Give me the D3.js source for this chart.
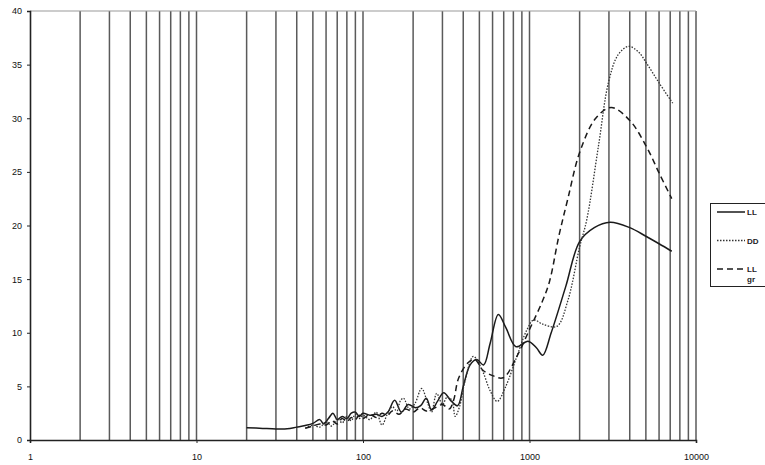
<!DOCTYPE html>
<html>
<head>
<meta charset="utf-8">
<script src="https://cdn.jsdelivr.net/npm/d3@7"></script>
<style>
  body { margin: 0; background: #fff; }
  text { font-family: "Liberation Sans", Arial, sans-serif; }
</style>
</head>
<body>
<div id="chart"></div>
<script>
// LL (solid)
const llX = [20, 25, 30, 35, 40, 45, 50, 55, 58, 62, 66, 70, 75, 80, 85, 90, 95, 100, 110, 120, 130, 141, 155, 170, 187, 207, 222, 240, 258, 280, 305, 340, 370, 400, 440, 482, 530, 580, 650, 720, 830, 980, 1100, 1200, 1350, 1650, 2000, 2450, 3050, 4000, 5000, 6000, 7150];
const llY = [1.15, 1.08, 1.03, 1.04, 1.2, 1.35, 1.55, 1.9, 1.5, 2.0, 2.5, 1.9, 2.2, 2.0, 2.5, 2.6, 2.2, 2.5, 2.3, 2.4, 2.2, 2.6, 3.7, 2.6, 3.3, 3.0, 3.2, 3.9, 2.8, 3.6, 4.4, 3.6, 3.2, 5.0, 7.0, 7.5, 7.0, 9.0, 11.7, 10.5, 8.7, 9.2, 8.6, 7.9, 10.0, 14.3, 18.5, 19.8, 20.3, 19.8, 19.0, 18.3, 17.6];

// DD (dotted)
const ddX = [45, 50, 55, 60, 65, 70, 75, 80, 85, 90, 95, 100, 110, 120, 130, 140, 150, 160, 167, 175, 190, 205, 225, 245, 258, 277, 300, 320, 342, 358, 380, 410, 460, 520, 580, 640, 720, 840, 960, 1060, 1200, 1460, 1700, 2000, 2205, 2600, 2977, 3400, 3930, 4500, 5060, 6000, 7250];
const ddY = [1.1, 1.4, 1.2, 1.7, 1.3, 2.0, 1.6, 2.2, 1.8, 2.4, 2.0, 2.3, 1.9, 2.6, 1.4, 2.4, 3.1, 2.7, 3.6, 3.9, 2.9, 3.4, 4.8, 3.4, 2.6, 4.35, 3.3, 4.0, 3.7, 2.2, 3.1, 5.5, 7.8, 6.5, 4.6, 3.6, 5.0, 7.8, 10.2, 11.2, 10.8, 10.6, 13.0, 18.0, 20.5, 27.5, 33.3, 35.9, 36.7, 36.2, 35.1, 33.3, 31.4];

// LL gr (dashed)
const grX = [45, 50, 55, 60, 65, 70, 75, 80, 85, 90, 95, 100, 110, 120, 130, 140, 150, 165, 180, 200, 220, 240, 270, 300, 330, 350, 375, 427, 470, 525, 600, 695, 840, 1000, 1200, 1320, 1500, 1700, 2000, 2500, 3100, 4000, 5060, 6000, 7150];
const grY = [1.1, 1.3, 1.5, 1.4, 1.8, 1.5, 2.0, 1.7, 2.1, 1.9, 2.3, 2.0, 2.4, 2.1, 2.5, 2.3, 2.7, 2.4, 2.9, 2.6, 3.0, 2.7, 3.0, 3.3, 2.9, 3.7, 5.75, 7.2, 7.5, 6.5, 6.0, 5.8, 7.8, 10.3, 13.0, 14.8, 19.0, 22.5, 26.8, 30.0, 31.0, 29.8, 27.3, 24.9, 22.5];

const yTicks = [0, 5, 10, 15, 20, 25, 30, 35, 40];
const xTicks = [1, 10, 100, 1000, 10000];

const series = [
  { name: ["LL"], xs: llX, ys: llY, dash: null, width: 1.5, color: "#1a1a1a" },
  { name: ["DD"], xs: ddX, ys: ddY, dash: "1.5,1.5", width: 1.3, color: "#333" },
  { name: ["LL", "gr"], xs: grX, ys: grY, dash: "6,4", width: 1.5, color: "#1a1a1a" }
];

const width = 765, height = 465;
const margin = { left: 30, right: 69, top: 11, bottom: 25 };

const svg = d3.select("#chart").append("svg")
  .attr("width", width)
  .attr("height", height);

const x = d3.scaleLog()
  .domain([1, 10000])
  .range([margin.left, width - margin.right]);

const y = d3.scaleLinear()
  .domain([0, 40])
  .range([height - margin.bottom, margin.top]);

// vertical grid lines at every log subdivision
const gridVals = [];
for (let d = 1; d < 10000; d *= 10) {
  for (let k = 1; k <= 10; k++) {
    if (d * k > 1) gridVals.push(d * k);
  }
}
svg.append("g")
  .selectAll("line")
  .data(Array.from(new Set(gridVals)))
  .enter()
  .append("line")
  .attr("x1", d => x(d))
  .attr("x2", d => x(d))
  .attr("y1", y(40))
  .attr("y2", y(0))
  .attr("stroke", "#5a5a5a")
  .attr("stroke-width", 1.5);

// top line
svg.append("line")
  .attr("x1", x(1)).attr("x2", x(10000))
  .attr("y1", y(40)).attr("y2", y(40))
  .attr("stroke", "#999")
  .attr("stroke-width", 1.2);

// y axis
const yAxis = d3.axisLeft(y).tickValues(yTicks).tickSize(3).tickPadding(5);
const gy = svg.append("g")
  .attr("transform", `translate(${margin.left},0)`)
  .call(yAxis);
gy.select(".domain").attr("stroke", "#222").attr("stroke-width", 1.6);
gy.selectAll(".tick line").attr("stroke", "#222");
gy.selectAll("text").attr("font-size", 9).attr("fill", "#111");

// x axis
const xAxis = d3.axisBottom(x).tickValues(xTicks).tickFormat(d3.format("d")).tickSize(3).tickPadding(11);
const gx = svg.append("g")
  .attr("transform", `translate(0,${y(0)})`)
  .call(xAxis);
gx.select(".domain").attr("stroke", "#222").attr("stroke-width", 1.6);
gx.selectAll(".tick line").attr("stroke", "#222");
gx.selectAll("text").attr("font-size", 9).attr("fill", "#111");

// lines
const line = d3.line()
  .x(d => x(d[0]))
  .y(d => y(d[1]))
  .curve(d3.curveCatmullRom.alpha(0.5));

series.forEach(s => {
  svg.append("path")
    .datum(s.xs.map((v, i) => [v, s.ys[i]]))
    .attr("d", line)
    .attr("fill", "none")
    .attr("stroke", s.color)
    .attr("stroke-width", s.width)
    .attr("stroke-dasharray", s.dash);
});

// legend
const legend = svg.append("g");
legend.append("rect")
  .attr("x", 710.5).attr("y", 203.5)
  .attr("width", 60).attr("height", 83)
  .attr("fill", "#fff")
  .attr("stroke", "#222");

series.forEach((s, i) => {
  const ly = 212 + i * 28.5;
  legend.append("line")
    .attr("x1", 717).attr("x2", 745)
    .attr("y1", ly).attr("y2", ly)
    .attr("stroke", s.color)
    .attr("stroke-width", s.width)
    .attr("stroke-dasharray", s.dash);
  s.name.forEach((t, j) => {
    legend.append("text")
      .attr("x", 747)
      .attr("y", ly + 3 + j * 10)
      .attr("font-size", 8)
      .attr("font-weight", "bold")
      .attr("fill", "#222")
      .text(t);
  });
});
</script>
</body>
</html>
